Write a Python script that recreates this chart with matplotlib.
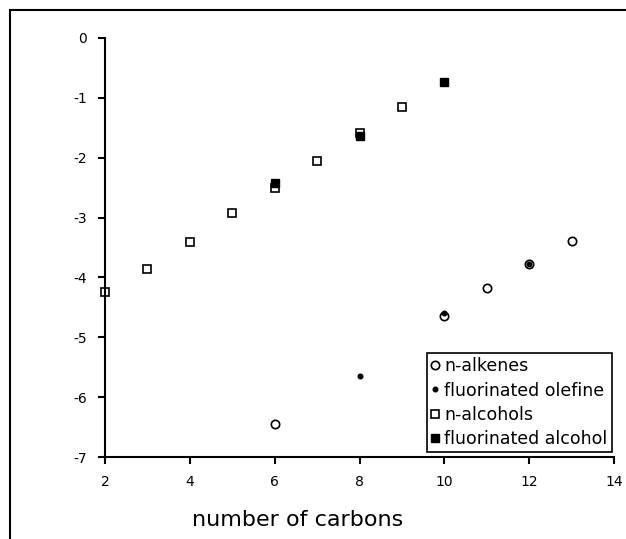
import matplotlib.pyplot as plt
from matplotlib.patches import Rectangle

plt.rcParams['axes.unicode_minus'] = False

# n-alkenes (open circles)
alkene_c = [6, 10, 11, 12, 13]
alkene_y = [-6.45, -4.64, -4.18, -3.78, -3.39]

# fluorinated olefine (small filled dots)
fol_c = [8, 10, 12]
fol_y = [-5.65, -4.60, -3.77]

# n-alcohols (open squares)
alc_c = [2, 3, 4, 5, 6, 7, 8, 9]
alc_y = [-4.24, -3.86, -3.41, -2.93, -2.50, -2.05, -1.58, -1.16]

# fluorinated alcohol (filled squares)
fal_c = [6, 8, 10]
fal_y = [-2.42, -1.63, -0.73]

fig = plt.figure(figsize=(6.26, 5.39), dpi=100)
ax = fig.add_axes([0.1677, 0.152, 0.8133, 0.7775])

# outer frame (cut off at right and bottom)
fig.patches.append(Rectangle((10 / 626, -0.05), 1.2, 1 - 10 / 539 + 0.05,
                             transform=fig.transFigure, fill=False,
                             edgecolor='black', linewidth=1.5))

ax.plot(alkene_c, alkene_y, 'o', mfc='white', mec='black', ms=6, mew=1.2,
        label='n-alkenes', clip_on=False)
ax.plot(fol_c, fol_y, 'o', mfc='black', mec='black', ms=3.3,
        label='fluorinated olefine', clip_on=False)
ax.plot(alc_c, alc_y, 's', mfc='white', mec='black', ms=5.5, mew=1.2,
        label='n-alcohols', clip_on=False)
ax.plot(fal_c, fal_y, 's', mfc='black', mec='black', ms=6,
        label='fluorinated alcohol', clip_on=False)

ax.set_xlim(2, 14)
ax.set_ylim(-7, 0)
ax.set_xticks(range(2, 15, 2))
ax.set_yticks(range(-7, 1))
ax.spines['top'].set_visible(False)
ax.spines['right'].set_visible(False)
ax.spines['left'].set_linewidth(1.5)
ax.spines['bottom'].set_linewidth(1.5)
ax.tick_params(direction='out', length=5, width=1.5, labelsize=10, pad=8)
ax.set_facecolor('none')

fig.text(298 / 626, 1 - 520 / 539, 'number of carbons', fontsize=16,
         ha='center', va='center', color='black')

leg = ax.legend(loc='lower right', bbox_to_anchor=(0.995, 0.012), fontsize=12.5,
                frameon=True, fancybox=False, edgecolor='black',
                handlelength=0.5, handletextpad=0.25, borderpad=0.25,
                labelspacing=0.35, borderaxespad=0, framealpha=1)
leg.get_frame().set_linewidth(1.2)

fig.savefig('out.png', dpi=100)
